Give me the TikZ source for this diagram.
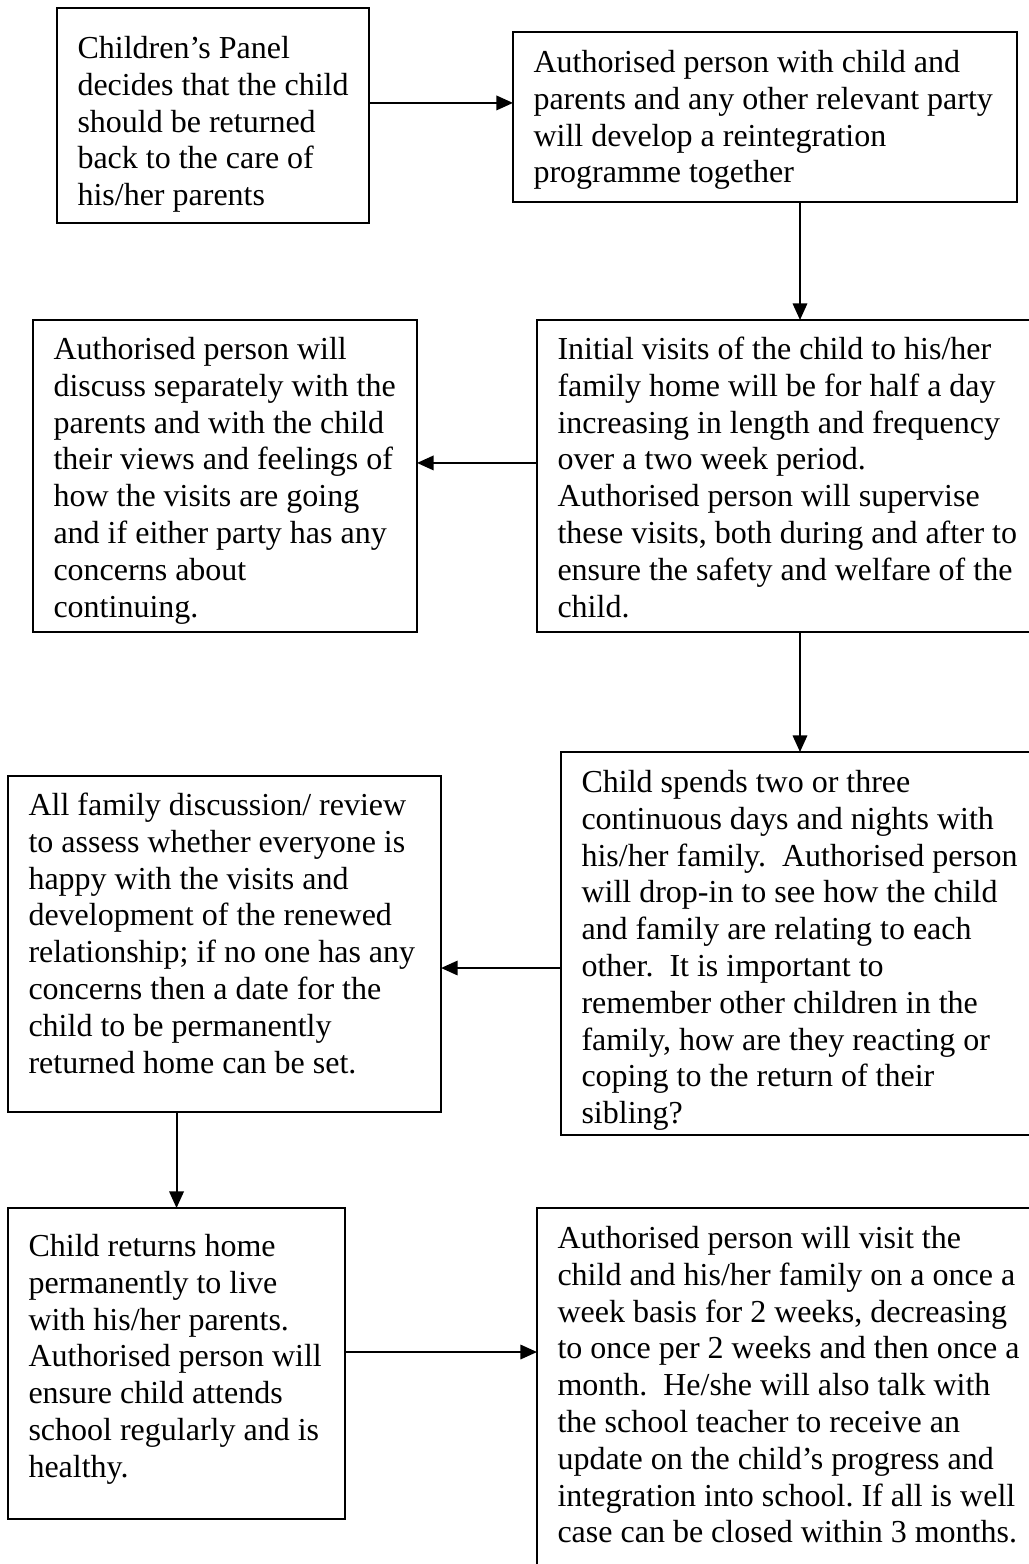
\documentclass[tikz,border=0pt]{standalone}
\usepackage{fontspec}
\setmainfont{Liberation Serif}
\usetikzlibrary{positioning}
\usetikzlibrary{arrows.meta}

\begin{document}
\begin{tikzpicture}[%
  x=0.375pt, y=-0.375pt,
  stage/.style={draw, line width=0.75pt, anchor=north west, inner sep=0pt, outer sep=0pt},
  words/.style={inner sep=0pt, align=left, font=\fontsize{12pt}{13.8pt}\selectfont\frenchspacing},
  flow/.style={line width=0.75pt, -{Triangle[length=6.2pt,width=5.4pt]}},
]
  \useasboundingbox (0,0) rectangle (1029,1564);

  % boxes
  \node[stage, minimum width=117pt, minimum height=80.6pt] (panel) at (57,8) {};
  \node[stage, minimum width=189pt, minimum height=63.75pt] (plan) at (513,32) {};
  \node[stage, minimum width=144pt, minimum height=117pt] (discuss) at (33,320) {};
  \node[stage, minimum width=197.25pt, minimum height=117pt] (visits) at (537,320) {};
  \node[stage, minimum width=162.4pt, minimum height=126pt] (review) at (8,776) {};
  \node[stage, minimum width=179.25pt, minimum height=143.6pt] (stay) at (561,752) {};
  \node[stage, minimum width=126.4pt, minimum height=116.6pt] (home) at (8,1208) {};
  \node[stage, minimum width=197.25pt, minimum height=147pt] (followup) at (537,1208) {};

  % texts
  \node[words, below right=9.1pt and 7.5pt of panel.north west] (panel-text)
    {\strut Children’s Panel\\ decides that the child\\ should be returned\\
     back to the care of\\ his/her parents};
  \node[words, below right=5.3pt and 7.5pt of plan.north west] (plan-text)
    {\strut Authorised person with child and\\ parents and any other relevant party\\
     will develop a reintegration\\ programme together};
  \node[words, below right=4.95pt and 7.5pt of discuss.north west] (discuss-text)
    {\strut Authorised person will\\ discuss separately with the\\ parents and with the child\\
     their views and feelings of\\ how the visits are going\\ and if either party has any\\
     concerns about\\ continuing.};
  \node[words, below right=4.95pt and 7.5pt of visits.north west] (visits-text)
    {\strut Initial visits of the child to his/her\\ family home will be for half a day\\
     increasing in length and frequency\\ over a two week period.\\
     Authorised person will supervise\\ these visits, both during and after to\\
     ensure the safety and welfare of the\\ child.};
  \node[words, below right=4.95pt and 7.5pt of review.north west] (review-text)
    {\strut All family discussion/ review\\ to assess whether everyone is\\
     happy with the visits and\\ development of the renewed\\
     relationship; if no one has any\\ concerns then a date for the\\
     child to be permanently\\ returned home can be set.};
  \node[words, below right=5.3pt and 7.5pt of stay.north west] (stay-text)
    {\strut Child spends two or three\\ continuous days and nights with\\
     his/her family.~ Authorised person\\ will drop-in to see how the child\\
     and family are relating to each\\ other.~ It is important to\\
     remember other children in the\\ family, how are they reacting or\\
     coping to the return of their\\ sibling?};
  \node[words, below right=8.3pt and 7.5pt of home.north west] (home-text)
    {\strut Child returns home\\ permanently to live\\ with his/her parents.\\
     Authorised person will\\ ensure child attends\\ school regularly and is\\ healthy.};
  \node[words, below right=5.3pt and 7.5pt of followup.north west] (followup-text)
    {\strut Authorised person will visit the\\ child and his/her family on a once a\\
     week basis for 2 weeks, decreasing\\ to once per 2 weeks and then once a\\
     month.~ He/she will also talk with\\ the school teacher to receive an\\
     update on the child’s progress and\\ integration into school. If all is well\\
     case can be closed within 3 months.};

  % arrows
  \draw[flow] ([yshift=4.7pt]panel.east) coordinate (a1) -- (a1 -| plan.west);
  \draw[flow] (plan.south -| visits.north) -- (visits.north);
  \draw[flow] ([yshift=4.9pt]visits.west) coordinate (a2) -- (a2 -| discuss.east);
  \draw[flow] (visits.south) -- (stay.north);
  \draw[flow] ([yshift=-9.2pt]stay.west) coordinate (a3) -- (a3 -| review.east);
  \draw[flow] (review.south -| home.north) -- (home.north);
  \draw[flow] ([yshift=4.3pt]home.east) coordinate (a4) -- (a4 -| followup.west);

\end{tikzpicture}
\end{document}
